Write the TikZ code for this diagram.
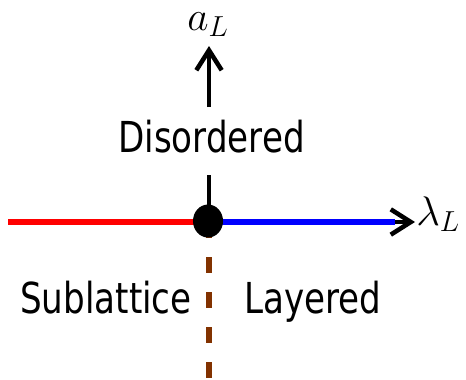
\RequirePackage{fix-cm}
\documentclass[tikz,border=0pt]{standalone}
\usepackage{fontspec}
\usepackage{graphicx}
\setmainfont{DejaVu Sans}
\usetikzlibrary{arrows.meta}
\definecolor{brownline}{RGB}{130,50,0}
\newcommand\narrowtxt[1]{\scalebox{0.8}[1]{#1}}
\begin{document}
\begin{tikzpicture}[x=0.75pt,y=-0.75pt,
  lbl/.style={font=\fontsize{32}{36}\selectfont, inner sep=0pt, anchor=base},
  mlbl/.style={font=\fontsize{31}{36}\selectfont, inner sep=0pt, anchor=base west},
  tipv/.style={-{Straight Barb[length=15pt,width=19pt,line width=3.4pt]}},
]
\useasboundingbox (0,0) rectangle (466,379);
\coordinate (c) at (209,222);
\coordinate (left) at (8,222);
\coordinate (right) at (415,222);
\coordinate (top) at (209,46);
\coordinate (bot) at (209,379);
\coordinate (gapb) at (209,175);
\coordinate (gapt) at (209,107);
\draw[red, line width=4.5pt] (left) -- (c);
\draw[line width=2.6pt, tipv] (c) -- (right);
\draw[blue, line width=4.5pt] (c) -- (395,222);
\draw[brownline, line width=5pt, dash pattern=on 12pt off 14.25pt] (c) -- (bot);
\draw[line width=2.6pt] (c) -- (gapb);
\draw[line width=2.6pt, tipv] (gapt) -- (top);
\node[lbl] (dis) at (211.5,152) {\narrowtxt{Disordered}};
\fill (208,221) ellipse [x radius=15, y radius=16.5];
\node[lbl] (sub) at (106,313) {\narrowtxt{Sublattice}};
\node[lbl] (lay) at (313,313) {\narrowtxt{Layered}};
\node[mlbl] (aL) at (187,30) {$a_L$};
\node[mlbl] (lL) at (416,225) {$\lambda_L$};
\end{tikzpicture}
\end{document}
